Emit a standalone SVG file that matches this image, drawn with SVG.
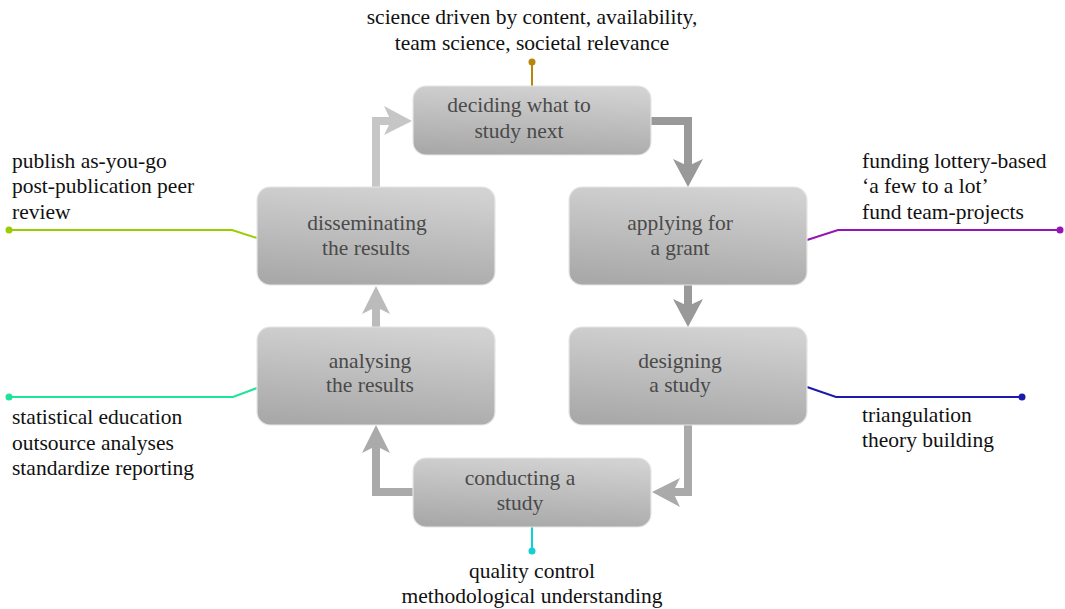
<svg xmlns="http://www.w3.org/2000/svg" width="1065" height="609" viewBox="0 0 1065 609">
<defs>
<linearGradient id="g" x1="0.6" y1="0" x2="0.4" y2="1">
<stop offset="0" stop-color="#d2d2d2"/>
<stop offset="1" stop-color="#a9a9a9"/>
</linearGradient>
<style>
.node rect{fill:url(#g);stroke:#e6e6e6;stroke-width:1.2}
.node text{font-family:"Liberation Serif","Times New Roman",serif;font-size:21.5px;fill:#4a4a4a;text-anchor:middle}
.note{font-family:"Liberation Serif","Times New Roman",serif;font-size:21.5px;fill:#111}
.flow{fill:none;stroke-width:8}
.lead{fill:none;stroke-width:2}
</style>
</defs>
<rect width="1065" height="609" fill="#fff"/>
<g id="connectors">
<path class="flow" stroke="#c6c6c6" d="M376,187 V121 H392"/>
<path fill="#c6c6c6" d="M412,121 L384,106 L391,121 L384,135 Z"/>
<path class="flow" stroke="#999" d="M651,121 H688 V166"/>
<path fill="#999" d="M688,187 L673,159 L688,166 L703,159 Z"/>
<path class="flow" stroke="#999" d="M688,285 V307"/>
<path fill="#999" d="M688,327 L673,299 L688,306 L703,299 Z"/>
<path class="flow" stroke="#aaa" d="M688,425 V492 H672"/>
<path fill="#aaa" d="M652,492 L680,478 L673,492 L680,507 Z"/>
<path class="flow" stroke="#aaa" d="M413,492 H376 V446"/>
<path fill="#aaa" d="M376,425 L362,453 L376,446 L390,453 Z"/>
<path class="flow" stroke="#bbb" d="M376,327 V306"/>
<path fill="#bbb" d="M376,286 L362,314 L376,307 L390,314 Z"/>
<path class="lead" stroke="#b8860b" d="M532,86 V62"/>
<circle cx="532" cy="62" r="3.5" fill="#b8860b"/>
<path class="lead" stroke="#9acd00" d="M257,238 L232,230 H9"/>
<circle cx="9" cy="230" r="3.5" fill="#9acd00"/>
<path class="lead" stroke="#9414b8" d="M807,240 L838,230 H1060"/>
<circle cx="1060" cy="230" r="3.5" fill="#9414b8"/>
<path class="lead" stroke="#1ee39a" d="M257,388 L233,397 H9"/>
<circle cx="9" cy="397" r="3.5" fill="#1ee39a"/>
<path class="lead" stroke="#1a1aad" d="M807,387 L836,397 H1022"/>
<circle cx="1022" cy="397" r="3.5" fill="#1a1aad"/>
<path class="lead" stroke="#12cfd2" d="M532,527 V551"/>
<circle cx="532" cy="551" r="3.5" fill="#12cfd2"/>
</g>
<g id="node-deciding" class="node">
<rect x="413" y="86" width="238" height="69" rx="13"/>
<text x="519" y="112">deciding what to</text>
<text x="519" y="138">study next</text>
</g>
<g id="node-disseminating" class="node">
<rect x="257" y="187" width="238" height="98" rx="13"/>
<text x="367" y="230">disseminating</text>
<text x="366" y="255">the results</text>
</g>
<g id="node-applying" class="node">
<rect x="569" y="187" width="238" height="98" rx="13"/>
<text x="680" y="230">applying for</text>
<text x="680" y="255">a grant</text>
</g>
<g id="node-analysing" class="node">
<rect x="257" y="327" width="238" height="98" rx="13"/>
<text x="370" y="368">analysing</text>
<text x="370" y="392">the results</text>
</g>
<g id="node-designing" class="node">
<rect x="569" y="327" width="238" height="98" rx="13"/>
<text x="680" y="368">designing</text>
<text x="680" y="392">a study</text>
</g>
<g id="node-conducting" class="node">
<rect x="413" y="458" width="238" height="69" rx="13"/>
<text x="520" y="485">conducting a</text>
<text x="520" y="510">study</text>
</g>
<g id="notes">
<text class="note" x="532" y="24" text-anchor="middle">science driven by content, availability,</text>
<text class="note" x="532" y="50" text-anchor="middle">team science, societal relevance</text>
<text class="note" x="12" y="168">publish as-you-go</text>
<text class="note" x="12" y="193">post-publication peer</text>
<text class="note" x="12" y="219">review</text>
<text class="note" x="862" y="168">funding lottery-based</text>
<text class="note" x="862" y="193">‘a few to a lot’</text>
<text class="note" x="862" y="219">fund team-projects</text>
<text class="note" x="12" y="424">statistical education</text>
<text class="note" x="12" y="450">outsource analyses</text>
<text class="note" x="12" y="475">standardize reporting</text>
<text class="note" x="862" y="422">triangulation</text>
<text class="note" x="862" y="447">theory building</text>
<text class="note" x="532" y="578" text-anchor="middle">quality control</text>
<text class="note" x="532" y="603" text-anchor="middle">methodological understanding</text>
</g>
</svg>
